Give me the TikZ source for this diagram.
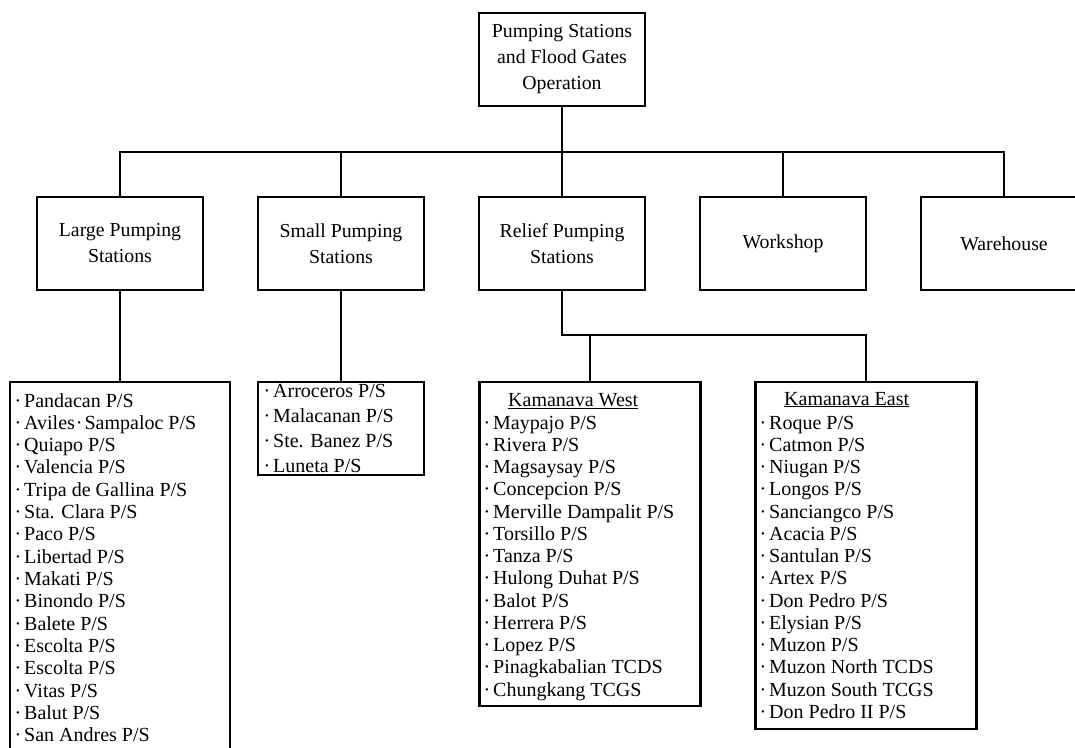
\documentclass[tikz,border=0pt]{standalone}
\usepackage{fontspec}
\setmainfont{Liberation Serif}
\newcommand\itm[1]{\makebox[0pt][r]{\textperiodcentered\hspace{3pt}}#1}
\begin{document}
\begin{tikzpicture}[x=1pt,y=-1pt,
  box/.style={draw, line width=2.6pt, minimum width=166pt, minimum height=93pt, inner sep=0pt, align=center, font=\fontsize{19.8}{26}\selectfont},
  listbox/.style={draw, line width=2.6pt, inner sep=0pt},
  itemtext/.style={anchor=base west, inner sep=0pt, font=\fontsize{20}{22}\selectfont},
  smalltext/.style={anchor=base west, inner sep=0pt, font=\fontsize{20}{24}\selectfont},
  conn/.style={line width=2.6pt, line cap=rect}]
\useasboundingbox (0,0) rectangle (1075,747);
\clip (0,0) rectangle (1075,747);
% level 1 and 2
\node[box] (top) at (562,59.5) {Pumping Stations\\and Flood Gates\\Operation};
\node[box] (large) at (120,243.5) {Large Pumping\\Stations};
\node[box] (small) at (341,243.5) {Small Pumping\\Stations};
\node[box] (relief) at (562,243.5) {Relief Pumping\\Stations};
\node[box] (workshop) at (783,243.5) {Workshop};
\node[box] (warehouse) at (1004,243.5) {Warehouse};
\coordinate (bus) at (562,152);
\coordinate (rbus) at (562,335);
\draw[conn] (top.south) -- (top.south |- bus);
\draw[conn] (large.north |- bus) -- (warehouse.north |- bus);
\foreach \n in {large,small,relief,workshop,warehouse}
  \draw[conn] (\n.north) -- (\n.north |- bus);
% list boxes
\node[listbox, minimum width=220pt, minimum height=420pt] (largelist) at (120,592) {};
\node[listbox, minimum width=166pt, minimum height=93pt] (smalllist) at (341,428.5) {};
\node[listbox, minimum width=221pt, minimum height=324pt] (west) at (590,544) {};
\node[listbox, minimum width=221pt, minimum height=347pt] (east) at (866,555.5) {};
\draw[conn] (large.south) -- (largelist.north);
\draw[conn] (small.south) -- (smalllist.north);
\draw[conn] (relief.south) |- (east.north |- rbus) -- (east.north);
\draw[conn] (west.north |- rbus) -- (west.north);
% large list
\foreach \t [count=\i from 0] in {Pandacan P/S, {Aviles\kern1pt\textperiodcentered\kern2pt Sampaloc P/S}, Quiapo P/S, Valencia P/S, Tripa de Gallina P/S, Sta. Clara P/S, Paco P/S, Libertad P/S, Makati P/S, Binondo P/S, Balete P/S, Escolta P/S, Escolta P/S, Vitas P/S, Balut P/S, San Andres P/S}
  \node[itemtext] (ll\i) at (24,407+22.33*\i) {\itm{\t}};
% small list
\foreach \t [count=\i from 0] in {Arroceros P/S, Malacanan P/S, Ste. Banez P/S, Luneta P/S}
  \node[smalltext] (sl\i) at (273,397+25.3*\i) {\itm{\t}};
% Kamanava West
\node[itemtext] (wtitle) at (508,406) {\underline{Kamanava West}};
\foreach \t [count=\i from 0] in {Maypajo P/S, Rivera P/S, Magsaysay P/S, Concepcion P/S, Merville Dampalit P/S, Torsillo P/S, Tanza P/S, Hulong Duhat P/S, Balot P/S, Herrera P/S, Lopez P/S, Pinagkabalian TCDS, Chungkang TCGS}
  \node[itemtext] (wl\i) at (493,429+22.25*\i) {\itm{\t}};
% Kamanava East
\node[itemtext] (etitle) at (784,405) {\underline{Kamanava East}};
\foreach \t [count=\i from 0] in {Roque P/S, Catmon P/S, Niugan P/S, Longos P/S, Sanciangco P/S, Acacia P/S, Santulan P/S, Artex P/S, Don Pedro P/S, Elysian P/S, Muzon P/S, Muzon North TCDS, Muzon South TCGS, Don Pedro II P/S}
  \node[itemtext] (el\i) at (769,429+22.25*\i) {\itm{\t}};
\end{tikzpicture}
\end{document}
